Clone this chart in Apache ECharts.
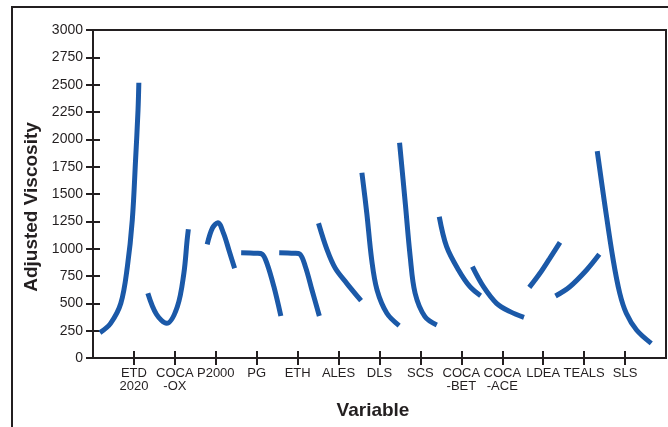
<!DOCTYPE html>
<html>
<head>
<meta charset="utf-8">
<script src="https://cdn.jsdelivr.net/npm/echarts@6/dist/echarts.min.js"></script>
<style>html,body{margin:0;padding:0;background:#fff}#c{width:668px;height:427px}</style>
</head>
<body>
<div id="c"></div>
<script>
// Category labels (x positions 0..12)
const categories = ["ETD\n2020","COCA\n-OX","P2000","PG","ETH","ALES","DLS","SCS","COCA\n-BET","COCA\n-ACE","LDEA","TEALS","SLS"];
const yTicks = [0,250,500,750,1000,1250,1500,1750,2000,2250,2500,2750,3000];

// Curves: [x (category units), adjusted viscosity]
const etd2020 = [[-0.83,232],[-0.57,317],[-0.32,500],[-0.16,835],[-0.04,1262],[0.04,1811],[0.10,2268],[0.12,2518]];
const cocaOx  = [[0.34,592],[0.55,400],[0.80,317],[1.06,469],[1.22,775],[1.30,1079],[1.33,1177]];
const p2000   = [[1.79,1040],[1.92,1190],[2.05,1238],[2.19,1140],[2.32,988],[2.46,820]];
const pg      = [[2.62,963],[3.00,958],[3.13,951],[3.25,866],[3.42,652],[3.59,384]];
const eth     = [[3.55,963],[3.92,958],[4.05,951],[4.19,835],[4.35,622],[4.53,384]];
const ales    = [[4.51,1232],[4.72,988],[4.92,820],[5.20,683],[5.55,524]];
const dls     = [[5.57,1695],[5.69,1323],[5.81,896],[5.94,622],[6.18,409],[6.48,296]];
const scs     = [[6.49,1969],[6.63,1415],[6.75,927],[6.87,592],[7.11,378],[7.40,302]];
const cocaBet = [[7.46,1292],[7.64,1018],[7.93,805],[8.21,652],[8.47,570]];
const cocaAce = [[8.27,835],[8.54,652],[8.86,500],[9.19,424],[9.53,372]];
const ldea    = [[9.66,646],[9.92,775],[10.16,912],[10.41,1058]];
const teals   = [[10.30,567],[10.65,652],[11.06,805],[11.37,948]];
const sls     = [[11.32,1893],[11.50,1415],[11.71,896],[11.87,592],[12.03,409],[12.28,256],[12.64,134]];

const curves = [etd2020,cocaOx,p2000,pg,eth,ales,dls,scs,cocaBet,cocaAce,ldea,teals,sls];
const catIdx = categories.map((c,i)=>i);

const ink = '#231f20';
const blue = '#1b59a8';
const font = 'Liberation Sans, Arial, sans-serif';

const chart = echarts.init(document.getElementById('c'), null, {renderer:'canvas'});
chart.setOption({
  animation:false,
  backgroundColor:'#fff',
  grid:{left:93, right:2, top:30, bottom:69, show:true, borderColor:ink, borderWidth:2, backgroundColor:'transparent'},
  xAxis:[{
    type:'value', min:-1, max:13, interval:1,
    axisLine:{show:true, onZero:false, lineStyle:{color:ink, width:2}},
    axisTick:{show:true, customValues:catIdx, length:7, inside:false, lineStyle:{color:ink, width:2}},
    axisLabel:{customValues:catIdx, formatter:v=>categories[Math.round(v)]||'', color:ink, fontFamily:font, fontSize:13, lineHeight:13, margin:9},
    splitLine:{show:false}
  },{
    type:'value', min:-1, max:13, interval:1, position:'bottom',
    axisLine:{show:true, onZero:false, lineStyle:{color:ink, width:2}},
    axisTick:{show:true, customValues:catIdx, length:7, inside:true, lineStyle:{color:ink, width:2}},
    axisLabel:{show:false}, splitLine:{show:false}
  }],
  yAxis:[{
    type:'value', min:0, max:3000, interval:250,
    axisLine:{show:true, onZero:false, lineStyle:{color:ink, width:2}},
    axisTick:{show:true, length:7, lineStyle:{color:ink, width:2}},
    axisLabel:{color:ink, fontFamily:font, fontSize:14, margin:10, customValues:yTicks, formatter:v=>String(v)},
    splitLine:{show:false}
  },{
    type:'value', min:0, max:3000, interval:250, position:'left',
    axisLine:{show:true, onZero:false, lineStyle:{color:ink, width:2}},
    axisTick:{show:true, length:7, inside:true, lineStyle:{color:ink, width:2}},
    axisLabel:{show:false}, splitLine:{show:false}
  }],
  graphic:[
    {type:'polyline', shape:{points:[[12,427],[12,7],[668,7]]}, style:{stroke:ink, lineWidth:2, fill:null}},
    {type:'text', x:32, y:207, rotation:Math.PI/2, style:{text:'Adjusted Viscosity', fontFamily:font, fontWeight:'bold', fontSize:19, fill:ink, align:'center', verticalAlign:'middle'}},
    {type:'text', x:373, y:411, style:{text:'Variable', fontFamily:font, fontWeight:'bold', fontSize:19, fill:ink, align:'center', verticalAlign:'middle'}}
  ],
  series: curves.map((d,i)=>({
    type:'line', data:d,
    // alternate curves between the two identical axis pairs so both pairs render
    xAxisIndex:i%2, yAxisIndex:i%2, smooth:0.35,
    showSymbol:false, symbol:'none', silent:true,
    lineStyle:{color:blue, width:5, cap:'butt'}
  }))
});
</script>
</body>
</html>
